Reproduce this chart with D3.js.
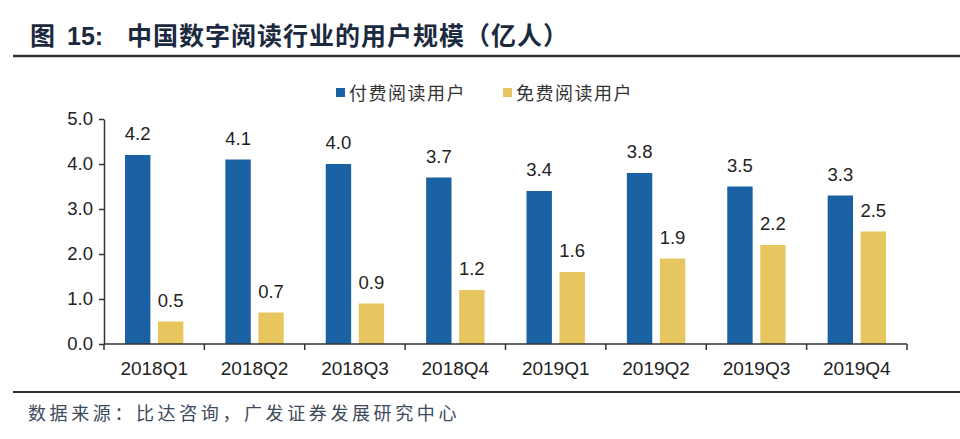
<!DOCTYPE html>
<html>
<head>
<meta charset="utf-8">
<script src="https://cdn.jsdelivr.net/npm/d3@7/dist/d3.min.js"></script>
<style>
  html, body { margin: 0; padding: 0; background: #fff; }
  svg { display: block; }
</style>
</head>
<body>
<script>
// data
const categories = ['2018Q1', '2018Q2', '2018Q3', '2018Q4', '2019Q1', '2019Q2', '2019Q3', '2019Q4'];
const seriesNames = ['付费阅读用户', '免费阅读用户'];
const paidUsers = [4.2, 4.1, 4.0, 3.7, 3.4, 3.8, 3.5, 3.3];
const freeUsers = [0.5, 0.7, 0.9, 1.2, 1.6, 1.9, 2.2, 2.5];
const yTicks = [0, 1, 2, 3, 4, 5];

const colors = ['#1b62a5', '#e8c65f'];
const W = 960, H = 439;
const latin = '"Liberation Sans", Arial, sans-serif';
const cjk = '"Noto Sans CJK SC", sans-serif';

const svg = d3.select('body').append('svg')
  .attr('width', W)
  .attr('height', H);

// title
const title = svg.append('g')
  .attr('fill', '#1c2a40')
  .attr('font-weight', 'bold');
title.append('text')
  .attr('x', 30).attr('y', 45)
  .attr('font-family', cjk).attr('font-size', 25)
  .text('图');
title.append('text')
  .attr('x', 67).attr('y', 45)
  .attr('font-family', latin).attr('font-size', 25)
  .text('15:');
title.append('text')
  .attr('x', 127).attr('y', 45)
  .attr('font-family', cjk).attr('font-size', 25)
  .attr('letter-spacing', 1)
  .text('中国数字阅读行业的用户规模（亿人）');

svg.append('line')
  .attr('x1', 13).attr('x2', W)
  .attr('y1', 56).attr('y2', 56)
  .attr('stroke', '#333').attr('stroke-width', 2.5);

// legend
const legendX = [336, 503];
const legend = svg.append('g').selectAll('g')
  .data(seriesNames)
  .join('g')
  .attr('transform', (d, i) => `translate(${legendX[i]},0)`);
legend.append('rect')
  .attr('x', 0).attr('y', 88)
  .attr('width', 9).attr('height', 9)
  .attr('fill', (d, i) => colors[i]);
legend.append('text')
  .attr('x', 13).attr('y', 100)
  .attr('font-family', cjk).attr('font-size', 18)
  .attr('letter-spacing', 1.5)
  .attr('fill', '#333')
  .text(d => d);

// scales
const x0 = d3.scaleBand()
  .domain(categories)
  .range([104, 907]);
const x1 = d3.scaleBand()
  .domain(seriesNames)
  .range([21, x0.bandwidth() - 21])
  .paddingInner(0.23);
const y = d3.scaleLinear()
  .domain([0, 5])
  .range([344, 119]);

// bars
const rows = categories.map((c, i) => ({cat: c, vals: [paidUsers[i], freeUsers[i]]}));
const groups = svg.append('g').selectAll('g')
  .data(rows)
  .join('g')
  .attr('transform', d => `translate(${x0(d.cat)},0)`);

groups.selectAll('rect')
  .data(d => d.vals.map((v, i) => ({name: seriesNames[i], v, i})))
  .join('rect')
  .attr('x', d => x1(d.name))
  .attr('width', x1.bandwidth())
  .attr('y', d => y(d.v))
  .attr('height', d => y(0) - y(d.v))
  .attr('fill', d => colors[d.i]);

groups.selectAll('text')
  .data(d => d.vals.map((v, i) => ({name: seriesNames[i], v})))
  .join('text')
  .attr('x', d => x1(d.name) + x1.bandwidth() / 2)
  .attr('y', d => y(d.v) - 15)
  .attr('text-anchor', 'middle')
  .attr('font-family', latin).attr('font-size', 18.5)
  .attr('fill', '#222')
  .text(d => d.v.toFixed(1));

// y axis
const yAxis = svg.append('g')
  .attr('transform', 'translate(104,0)')
  .call(d3.axisLeft(y).tickValues(yTicks).tickFormat(d3.format('.1f')).tickSize(5).tickSizeOuter(0).tickPadding(6));
yAxis.select('.domain').attr('stroke', '#333').attr('stroke-width', 1.5);
yAxis.selectAll('.tick line').attr('stroke', '#333').attr('stroke-width', 1.5);
yAxis.selectAll('.tick text')
  .attr('font-family', latin).attr('font-size', 18.5)
  .attr('fill', '#222');

// x axis: ticks sit between the categories
const xAxis = svg.append('g')
  .attr('transform', `translate(0,${y(0)})`);
xAxis.append('line')
  .attr('x1', x0.range()[0]).attr('x2', x0.range()[1])
  .attr('stroke', '#333').attr('stroke-width', 1.5);
const bounds = categories.map(c => x0(c)).concat([x0.range()[1]]);
xAxis.selectAll('line.tk')
  .data(bounds)
  .join('line')
  .attr('class', 'tk')
  .attr('x1', d => d).attr('x2', d => d)
  .attr('y1', 0).attr('y2', 6)
  .attr('stroke', '#333').attr('stroke-width', 1.5);
xAxis.selectAll('text')
  .data(categories)
  .join('text')
  .attr('x', d => x0(d) + x0.bandwidth() / 2)
  .attr('y', 31)
  .attr('text-anchor', 'middle')
  .attr('font-family', latin).attr('font-size', 19)
  .attr('fill', '#222')
  .text(d => d);

// source
svg.append('line')
  .attr('x1', 13).attr('x2', W)
  .attr('y1', 392).attr('y2', 392)
  .attr('stroke', '#333').attr('stroke-width', 2);
svg.append('text')
  .attr('x', 28).attr('y', 420)
  .attr('font-family', cjk).attr('font-size', 18)
  .attr('letter-spacing', 3.6)
  .attr('fill', '#3b4a5c')
  .text('数据来源：比达咨询，广发证券发展研究中心');
</script>
</body>
</html>
